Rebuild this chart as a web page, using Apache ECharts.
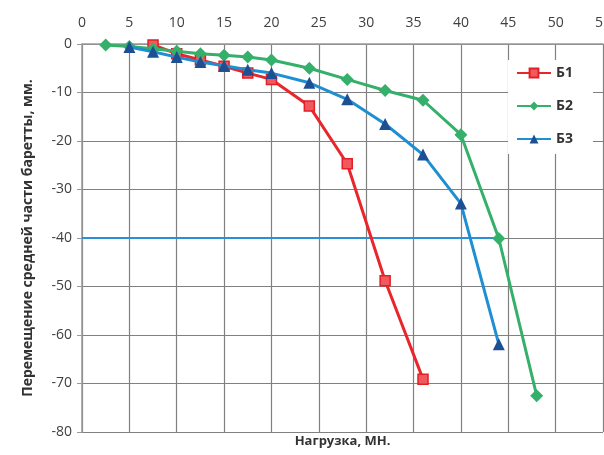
<!DOCTYPE html>
<html lang="ru">
<head>
	<meta charset="UTF-8">
	<title>Перемещение баретты</title>
	<style type="text/css">
	body,html{
		width: 100%;
		height: 100%;
		margin: 0;
		padding: 0;
		background: #fff;
	}
	#container{
		width: 604px;
		height: 455px;
	}
	</style>
</head>
<body>
	<div id="container"></div>
<script type="text/javascript" src="https://cdn.jsdelivr.net/npm/echarts@6/dist/echarts.min.js"></script>
<script type="text/javascript">
	// нагрузка, МН / перемещение, мм
	var loadB1 = [7.5, 10, 12.5, 15, 17.5, 20, 24, 28, 32, 36];
	var dispB1 = [-0.2, -2.0, -3.3, -4.6, -6.0, -7.3, -12.8, -24.7, -48.8, -69.1];

	var loadB2 = [2.5, 5, 7.5, 10, 12.5, 15, 17.5, 20, 24, 28, 32, 36, 40, 44, 48];
	var dispB2 = [-0.2, -0.5, -1.0, -1.5, -2.0, -2.3, -2.7, -3.3, -5.0, -7.3, -9.6, -11.6, -18.7, -40.1, -72.5];

	var loadB3 = [5, 7.5, 10, 12.5, 15, 17.5, 20, 24, 28, 32, 36, 40, 44];
	var dispB3 = [-0.6, -1.6, -2.7, -3.7, -4.5, -5.3, -6.0, -8.0, -11.4, -16.5, -22.8, -32.9, -61.9];

	// горизонтальная линия -40 мм
	var limitLoad = [0, 44];
	var limitDisp = [-40, -40];

	var names = ['Б1', 'Б2', 'Б3'];

	function pairs(xs, ys) {
		return xs.map(function (x, i) { return [x, ys[i]]; });
	}

	var font = '"Open Sans", "Noto Sans", sans-serif';

	var option = {
		backgroundColor: '#fff',
		animation: false,
		textStyle: { fontFamily: font },
		grid: { left: 82, right: 1, top: 44, bottom: 23, outerBoundsMode: 'none' },
		legend: {
			orient: 'vertical',
			left: 508,
			top: 60,
			padding: [6, 20, 8, 8],
			backgroundColor: '#fff',
			itemWidth: 34,
			itemHeight: 11,
			itemGap: 19,
			textStyle: { fontSize: 14, color: '#333', fontWeight: 'bold', fontFamily: font },
			data: names
		},
		xAxis: [{
			type: 'value',
			position: 'top',
			min: 0,
			max: 55,
			interval: 5,
			axisLine: { show: true, onZero: false, lineStyle: { color: '#999', width: 1.5 } },
			axisTick: { show: false },
			axisLabel: { color: '#404040', fontSize: 14, margin: 14, fontFamily: font },
			splitLine: { show: true, lineStyle: { color: '#808080', width: 1.2 } }
		}, {
			type: 'value',
			position: 'bottom',
			min: 0,
			max: 55,
			name: 'Нагрузка, МН.',
			nameLocation: 'middle',
			nameGap: 3,
			nameTextStyle: { color: '#333', fontSize: 13, fontWeight: 'bold', fontFamily: font },
			axisLine: { show: false },
			axisTick: { show: false },
			axisLabel: { show: false },
			splitLine: { show: false }
		}],
		yAxis: {
			type: 'value',
			min: -80,
			max: 0,
			interval: 10,
			name: 'Перемещение средней части баретты, мм.',
			nameLocation: 'middle',
			nameGap: 47,
			nameTextStyle: { color: '#333', fontSize: 14, fontWeight: 'bold', fontFamily: font },
			axisLine: { show: true, onZero: false, lineStyle: { color: '#999', width: 1.5 } },
			axisTick: { show: true, inside: false, length: 5, lineStyle: { color: '#999' } },
			axisLabel: { color: '#404040', fontSize: 14, margin: 10, fontFamily: font },
			splitLine: { show: true, lineStyle: { color: '#808080', width: 1.2 } }
		},
		series: [{
			name: 'limit',
			type: 'line',
			data: pairs(limitLoad, limitDisp),
			showSymbol: false,
			symbol: 'none',
			lineStyle: { color: '#2a8fd6', width: 1.8 },
			z: 1
		}, {
			name: names[0],
			type: 'line',
			data: pairs(loadB1, dispB1),
			symbol: 'rect',
			symbolSize: 10,
			color: '#e8262c',
			lineStyle: { color: '#e8262c', width: 3 },
			itemStyle: { color: '#f05a5e', borderColor: '#e31e24', borderWidth: 1.5 },
			z: 2
		}, {
			name: names[1],
			type: 'line',
			data: pairs(loadB2, dispB2),
			symbol: 'diamond',
			symbolSize: 13,
			color: '#35b06a',
			lineStyle: { color: '#35b06a', width: 3 },
			itemStyle: { color: '#35b06a' },
			z: 3
		}, {
			name: names[2],
			type: 'line',
			data: pairs(loadB3, dispB3),
			symbol: 'triangle',
			symbolSize: 12,
			color: '#1f8fd2',
			lineStyle: { color: '#1f8fd2', width: 3 },
			itemStyle: { color: '#1d4f93' },
			z: 4
		}]
	};

	var chart = echarts.init(document.getElementById('container'));
	chart.setOption(option);
	window.addEventListener('resize', function () {
		chart.resize();
	});
</script>
</body>
</html>
